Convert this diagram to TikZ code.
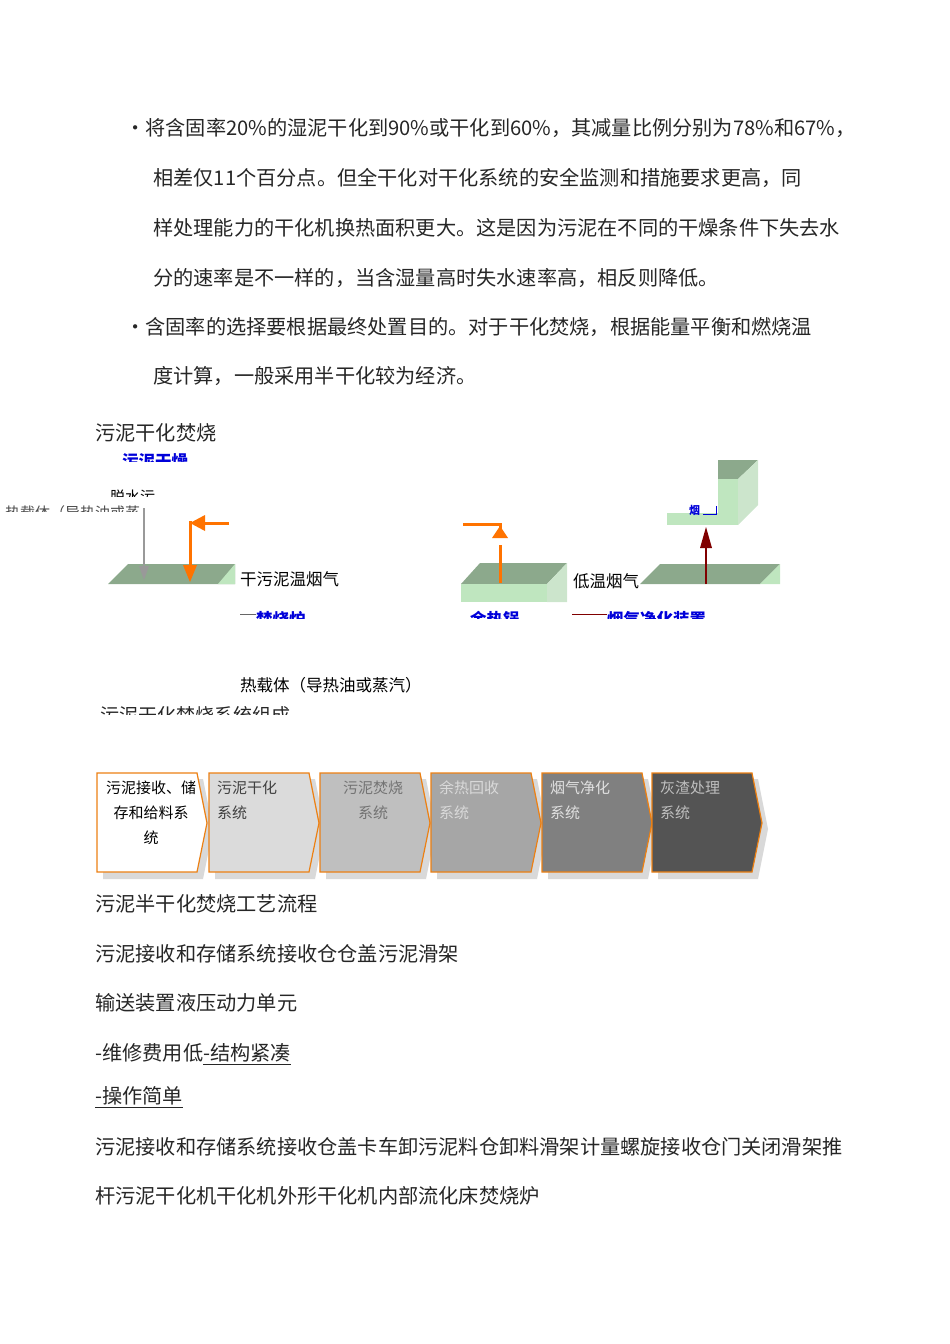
\documentclass[tikz,border=0pt]{standalone}
\usepackage{fontspec}
\setmainfont{Noto Sans CJK SC}
\begin{document}
\begin{tikzpicture}[x=1pt,y=-1pt,
  body/.style={anchor=west,inner sep=0pt,font=\fontsize{20.2}{22}\selectfont,text=black!85},
  lab/.style={anchor=west,inner sep=0pt,font=\fontsize{16.5}{18}\selectfont},
  blu/.style={anchor=west,inner sep=0pt,font=\fontsize{16.5}{18}\selectfont\bfseries,text=blue!85!black},
  dk/.style={fill=green!25!black!45!white,draw=none},
  lt/.style={fill=green!60!black!25!white,draw=none},
  lt2/.style={fill=green!50!black!20!white,draw=none},
  chev/.style={draw=orange!70!brown,line width=1.2pt},
  ctext/.style={font=\fontsize{15}{25}\selectfont,align=left,anchor=north west,inner sep=0pt}]
\useasboundingbox (0,0) rectangle (950,1344);
% paragraph
\node[body] (l1) at (125,128) {•将含固率20\%的湿泥干化到90\%或干化到60\%，其减量比例分别为78\%和67\%，};
\node[body] (l2) at (153,178) {相差仅11个百分点。但全干化对干化系统的安全监测和措施要求更高，同};
\node[body] (l3) at (153,228) {样处理能力的干化机换热面积更大。这是因为污泥在不同的干燥条件下失去水};
\node[body] (l4) at (153,278) {分的速率是不一样的，当含湿量高时失水速率高，相反则降低。};
\node[body] (l5) at (125,327) {•含固率的选择要根据最终处置目的。对于干化焚烧，根据能量平衡和燃烧温};
\node[body] (l6) at (153,376) {度计算，一般采用半干化较为经济。};
\node[body] (t0) at (95,433) {污泥干化焚烧};
% clipped labels
\begin{scope}\clip (0,440) rectangle (400,461);
\node[blu] (c1) at (122,461) {污泥干燥};\end{scope}
\begin{scope}\clip (0,480) rectangle (400,496);
\node[lab,font=\fontsize{15}{17}\selectfont] (c2) at (110,497) {脱水污};\end{scope}
\begin{scope}\clip (0,497) rectangle (400,511);
\node[lab,font=\fontsize{15}{17}\selectfont,text=black!70] (c3) at (5,513) {热载体（导热油或蒸};\end{scope}
\begin{scope}\clip (0,604) rectangle (800,618);
\node[blu] (c4) at (256,619) {焚烧炉};
\node[blu] (c5) at (470,619) {余热锅};
\node[blu] (c6) at (607,619) {烟气净化装置};\end{scope}
\draw[black!60,line width=0.8pt] (240,614)--(256,614);
\draw[red!50!black,line width=1pt] (572,614)--(607,614);
% block 1
\fill[dk] (108,584)--(128,564)--(235,564)--(235,584)--cycle;
\fill[lt] (218,584)--(235,564)--(235,584)--cycle;
\draw[black!40,line width=2.5pt] (144,508)--(144,570);
\fill[black!40] (139,566)--(149,566)--(144,580)--cycle;
\draw[orange!90!red,line width=3pt] (229,523)--(205,523);
\fill[orange!90!red] (205,515)--(205,531)--(190,523)--cycle;
\draw[orange!90!red,line width=3pt] (190,521)--(190,568);
\fill[orange!90!red] (183,565)--(197,565)--(190,582)--cycle;
\node[lab] (dry) at (240,579) {干污泥温烟气};
% block 2
\fill[dk] (461,584)--(480,563)--(567,563)--(547,584)--cycle;
\fill[lt] (461,584) rectangle (547,602);
\fill[lt2] (547,584)--(567,563)--(567,602)--(547,602)--cycle;
\draw[orange!90!red,line width=3pt] (463,524)--(500,524)--(500,530);
\fill[orange!90!red] (492,538)--(508,538)--(500,526)--cycle;
\draw[orange!90!red,line width=3pt] (500,545)--(500,583);
\node[lab] (low) at (573,581) {低温烟气};
% block 3
\fill[dk] (640,584)--(660,564)--(780,564)--(760,584)--cycle;
\fill[lt] (760,584)--(780,564)--(780,584)--cycle;
\fill[dk] (718,460)--(758,460)--(738,479)--(718,479)--cycle;
\fill[lt] (718,479) rectangle (738,525);
\fill[lt] (667,513) rectangle (738,525);
\fill[lt2] (738,479)--(758,460)--(758,505)--(738,525)--cycle;
\draw[red!50!black,line width=2.5pt] (706,584)--(706,545);
\fill[red!50!black] (700,548)--(712,548)--(706,527)--cycle;
\node[blu,font=\fontsize{11}{12}\selectfont\bfseries] (yan) at (689,510) {烟};
\draw[blue!85!black,line width=1pt] (703,514)--(716,514)--(716,506);
\node[lab] (hc) at (240,685) {热载体（导热油或蒸汽）};
\begin{scope}\clip (0,695) rectangle (500,714);
\node[body,font=\fontsize{19}{20}\selectfont] (c7) at (100,715) {污泥干化焚烧系统组成};\end{scope}
% chevrons
\foreach \x/\c [count=\i] in {97/white,209/black!14,320/black!25,431/black!35,542/black!50,652/black!67}{
  \fill[black!15] (\x+6,779)--(\x+106,779)--(\x+116,829)--(\x+106,879)--(\x+6,879)--cycle;
  \draw[chev,fill=\c] (\x,773)--(\x+100,773)--(\x+110,823)--(\x+100,872)--(\x,872)--cycle;
}
\node[ctext,align=center,anchor=north] (s1) at (151,781) {污泥接收、储\\存和给料系\\统};
\node[ctext,text=black!75] (s2) at (217,781) {污泥干化\\系统};
\node[ctext,align=center,anchor=north,text=black!55] (s3) at (373,781) {污泥焚烧\\系统};
\node[ctext,text=black!15] (s4) at (439,781) {余热回收\\系统};
\node[ctext,text=black!12] (s5) at (550,781) {烟气净化\\系统};
\node[ctext,text=black!25] (s6) at (660,781) {灰渣处理\\系统};
% bottom text
\node[body] (b1) at (95,904) {污泥半干化焚烧工艺流程};
\node[body] (b2) at (95,954) {污泥接收和存储系统接收仓仓盖污泥滑架};
\node[body] (b3) at (95,1003) {输送装置液压动力单元};
\node[body] (b4) at (95,1054) {-维修费用低\underline{-结构紧凑}};
\node[body] (b5) at (95,1097) {\underline{-操作简单}};
\node[body] (b6) at (95,1147) {污泥接收和存储系统接收仓盖卡车卸污泥料仓卸料滑架计量螺旋接收仓门关闭滑架推};
\node[body] (b7) at (95,1196) {杆污泥干化机干化机外形干化机内部流化床焚烧炉};
\end{tikzpicture}
\end{document}
